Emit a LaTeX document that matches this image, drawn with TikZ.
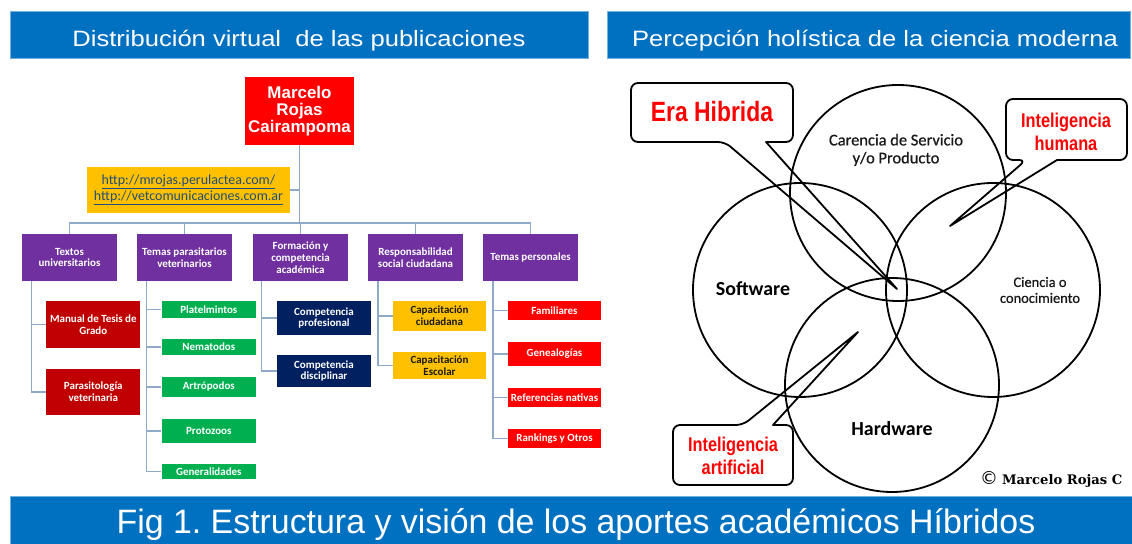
\documentclass[tikz,border=0pt]{standalone}
\usepackage{fontspec}
\setmainfont{Liberation Sans}
\newfontfamily\calfont{Carlito}
\newfontfamily\calsemi[FakeBold=0.7]{Carlito}
\newfontfamily\narrowfont[FakeStretch=0.82]{Liberation Sans}
\newfontfamily\widefont[FakeStretch=1.15]{Liberation Sans}
\newfontfamily\slabfont{DejaVu Serif}
\newfontfamily\symfont{DejaVu Sans}
\definecolor{hdrblue}{HTML}{0070C0}
\definecolor{purp}{HTML}{7030A0}
\definecolor{dred}{HTML}{C00000}
\definecolor{grn}{HTML}{00B050}
\definecolor{navy}{HTML}{002060}
\definecolor{gold}{HTML}{FFC000}
\definecolor{connc}{HTML}{8EAAC8}
\definecolor{linkc}{HTML}{1F4E79}
\definecolor{redc}{HTML}{FF0000}
\frenchspacing
\begin{document}
\begin{tikzpicture}[x=1bp,y=-1bp,
  hdr/.style={fill=hdrblue, draw=hdrblue!55!white, line width=0.8bp, inner sep=0},
  sz/.style 2 args={minimum width=#1bp, minimum height=#2bp},
  bx/.style={inner sep=1bp, align=center, text=white, font=\calfont\bfseries\fontsize{11}{12}\selectfont},
  cl/.style={draw=connc, line width=1.6bp},
  vc/.style={circle, draw=black, line width=1.8bp, minimum size=#1bp, inner sep=0},
  co/.style={draw=black, line width=1.8bp, line join=round},
  redlbl/.style={text=redc, align=center, font=\narrowfont\bfseries\fontsize{20}{23}\selectfont},
  hdrtxt/.style={text=white, anchor=base, inner sep=0, font=\widefont\fontsize{22.3}{24}\selectfont}]
\useasboundingbox (0,0) rectangle (1132,544);
\fill[white] (0,0) rectangle (1132,544);

% headers
\node[hdr, sz={578}{47}] (h1) at (299,34.5) {};
\node[hdrtxt] (h1t) at (299,46.5) {Distribución virtual\ \ de las publicaciones};
\node[hdr, sz={523}{47}] (h2) at (868.5,34.5) {};
\node[hdrtxt] (h2t) at (875,46.5) {Percepción holística de la ciencia moderna};

% org chart
\node[bx, fill=redc, sz={109}{68}, font=\bfseries\fontsize{17}{17}\selectfont] (root) at (299.5,111) {Marcelo\\Rojas\\Cairampoma};
\node[bx, fill=gold, sz={203}{46}, text=linkc, font=\calfont\fontsize{14}{16}\selectfont] (url) at (188.5,190) {\underline{http://mrojas.perulactea.com/}\\\underline{http://vetcomunicaciones.com.ar}};

\node[bx, fill=purp, sz={95}{47}] (t1) at (69.5,257.5) {Textos\\universitarios};
\node[bx, fill=purp, sz={95}{47}] (t2) at (184.5,257.5) {Temas parasitarios\\veterinarios};
\node[bx, fill=purp, sz={95}{47}] (t3) at (300.5,257.5) {Formación y\\competencia\\académica};
\node[bx, fill=purp, sz={95}{47}] (t4) at (415.5,257.5) {Responsabilidad\\social ciudadana};
\node[bx, fill=purp, sz={95}{47}] (t5) at (530.5,257.5) {Temas personales};

\node[bx, fill=dred, sz={94}{47}] (c11) at (93.3,324.5) {Manual de Tesis de\\Grado};
\node[bx, fill=dred, sz={94}{46}] (c12) at (93.3,392) {Parasitología\\veterinaria};

\node[bx, fill=grn, sz={94.5}{17}] (c21) at (208.8,309.5) {Platelmintos};
\node[bx, fill=grn, sz={94.5}{16}] (c22) at (208.8,347) {Nematodos};
\node[bx, fill=grn, sz={94.5}{20}] (c23) at (208.8,387) {Artrópodos};
\node[bx, fill=grn, sz={94.5}{24}] (c24) at (208.8,431) {Protozoos};
\node[bx, fill=grn, sz={94.5}{15}] (c25) at (208.8,471.5) {Generalidades};

\node[bx, fill=navy, sz={94}{34}] (c31) at (324,318) {Competencia\\profesional};
\node[bx, fill=navy, sz={94}{32}] (c32) at (324,371) {Competencia\\disciplinar};

\node[bx, fill=gold, text=black!90, sz={93}{30}] (c41) at (439.5,316) {Capacitación\\ciudadana};
\node[bx, fill=gold, text=black!90, sz={93}{27}] (c42) at (439.5,365.5) {Capacitación\\Escolar};

\node[bx, fill=redc, sz={93}{19}] (c51) at (554.5,310.5) {Familiares};
\node[bx, fill=redc, sz={93}{24}] (c52) at (554.5,354) {Genealogías};
\node[bx, fill=redc, sz={93}{19}] (c53) at (554.5,397.5) {Referencias nativas};
\node[bx, fill=redc, sz={93}{19}] (c54) at (554.5,438.5) {Rankings y Otros};

\coordinate (bus) at (300,223);
\foreach \t in {t1,t2,t3,t4,t5} \draw[cl] (root.south) |- (bus -| \t.north) -- (\t.north);
\draw[cl] (url.east) -- (url.east -| root.south);
\foreach \c in {c11,c12} \draw[cl] ([xshift=-38bp]t1.south) |- (\c.west);
\foreach \c in {c21,c22,c23,c24,c25} \draw[cl] ([xshift=-38bp]t2.south) |- (\c.west);
\foreach \c in {c31,c32} \draw[cl] ([xshift=-39bp]t3.south) |- (\c.west);
\foreach \c in {c41,c42} \draw[cl] ([xshift=-37.5bp]t4.south) |- (\c.west);
\foreach \c in {c51,c52,c53,c54} \draw[cl] ([xshift=-37.5bp]t5.south) |- (\c.west);

% Venn
\node[vc=216] (cTop) at (898,193) {};
\node[vc=214] (cLeft) at (800,290) {};
\node[vc=214] (cRight) at (993,290) {};
\node[vc=214] (cBot) at (892,385) {};

\node[align=center, text=black!90, font=\calsemi\fontsize{16.5}{18}\selectfont] (lTop) at (896,150) {Carencia de Servicio\\y/o Producto};
\node[anchor=base, inner sep=0, font=\calfont\bfseries\fontsize{20}{22}\selectfont] (lSoft) at (753,296) {Software};
\node[align=center, text=black!90, font=\calsemi\fontsize{14.5}{16}\selectfont] (lSci) at (1040,290) {Ciencia o\\conocimiento};
\node[anchor=base, inner sep=0, font=\calfont\bfseries\fontsize{20}{22}\selectfont] (lHard) at (892,435) {Hardware};

% callouts
\coordinate (tipEra) at (897,289);
\draw[co] (712,83) [rounded corners=7bp] -- (631,83) -- (631,142) -- (725,142) [sharp corners] -- (tipEra) -- (766,142) [rounded corners=7bp] -- (793,142) -- (793,83) -- cycle;
\node[redlbl, font=\narrowfont\bfseries\fontsize{28}{28}\selectfont] (era) at (712,112) {Era Hibrida};

\coordinate (tipHum) at (950,226);
\draw[co] (1066,99) [rounded corners=7bp] -- (1006,99) -- (1006,160) -- (1026,160) [sharp corners] -- (tipHum) -- (1057,160) [rounded corners=7bp] -- (1127,160) -- (1127,99) -- cycle;
\node[redlbl] (hum) at (1066,131.5) {Inteligencia\\humana};

\coordinate (tipArt) at (858,332);
\draw[co] (733,485) [rounded corners=7bp] -- (673,485) -- (673,425) -- (743,425) [sharp corners] -- (tipArt) -- (773,425) [rounded corners=7bp] -- (793,425) -- (793,485) -- cycle;
\node[redlbl] (art) at (733,455.5) {Inteligencia\\artificial};

\node[anchor=west, inner sep=0] (copy) at (980,479) {{\symfont\fontsize{18}{18}\selectfont\textcopyright}\hspace{4bp}{\slabfont\bfseries\fontsize{13.2}{15}\selectfont Marcelo Rojas C}};

% bottom caption
\node[hdr, sz={1122}{48}] (bar) at (571,520) {};
\node[text=white, anchor=base, inner sep=0, font=\fontsize{34}{36}\selectfont] (cap) at (576,533) {Fig 1. Estructura y visión de los aportes académicos Híbridos};
\end{tikzpicture}
\end{document}
